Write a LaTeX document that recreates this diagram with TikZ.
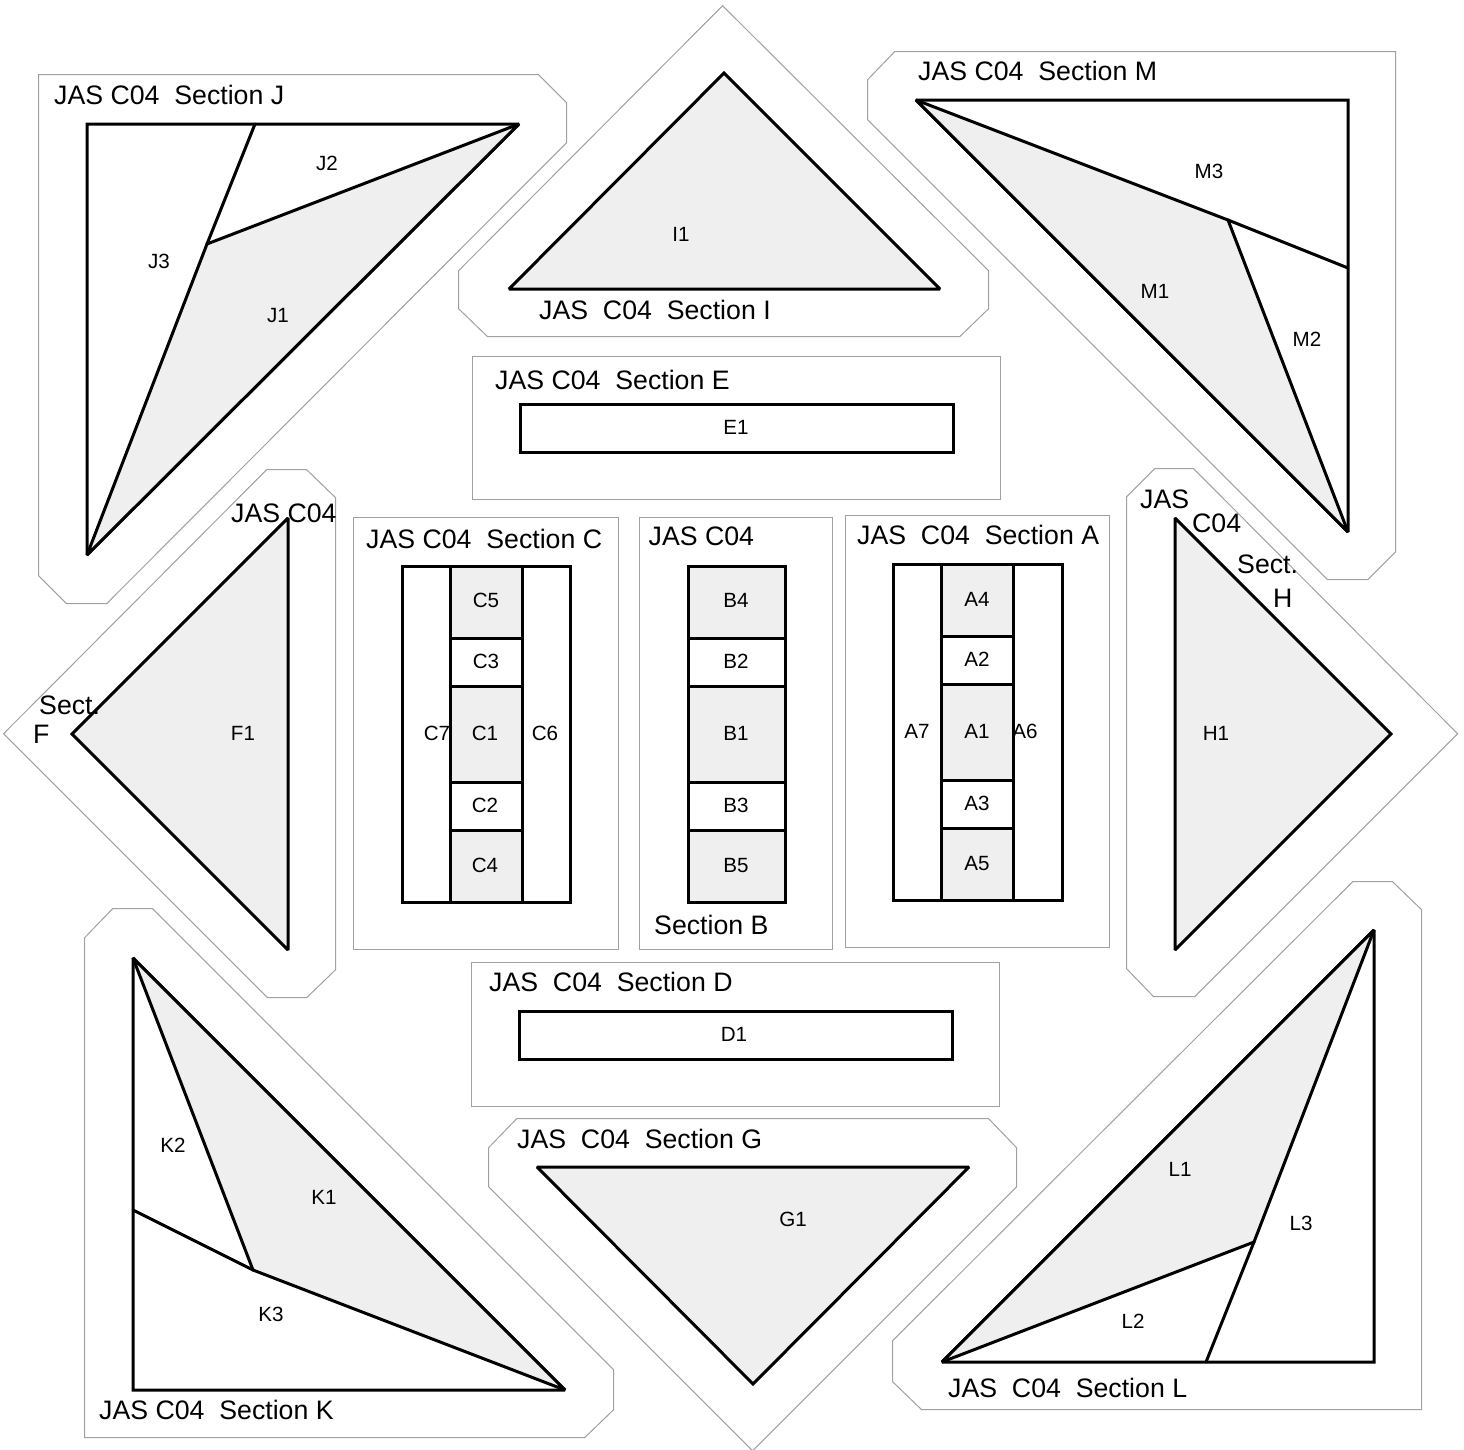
\documentclass[tikz,border=0pt]{standalone}
\usepackage{fontspec}
\setmainfont{Liberation Sans}
\definecolor{panelgray}{HTML}{EFEFEF}
\definecolor{edgegray}{HTML}{A0A0A0}
\tikzset{
  outline/.style={draw=edgegray,line width=1pt,line join=miter},
  part/.style={draw=black,line width=3pt,line join=miter,miter limit=2,line cap=round},
  shaded/.style={part,fill=panelgray},
  title/.style={anchor=base west,inner sep=0pt,font=\fontsize{26.7}{30}\selectfont},
  tag/.style={anchor=center,inner sep=0pt,yshift=-0.6pt,font=\fontsize{20.6}{23}\selectfont}
}
\begin{document}
\begin{tikzpicture}[x=1pt,y=-1pt]
\useasboundingbox (0,0) rectangle (1464,1449);
\clip (0,0) rectangle (1464,1449);
% section outlines
\begin{scope}[xshift=-0.4pt,yshift=0.3pt]
\draw[outline] (723,6) -- (989,271) -- (989,309) -- (960,337) -- (488,337) -- (459,309) -- (459,271) -- cycle;
\draw[outline] (517,1119) -- (989,1119) -- (1017,1148) -- (1017,1187) -- (753,1451) -- (489,1187) -- (489,1148) -- cycle;
\draw[outline] (39,75) -- (539,75) -- (567,103) -- (567,143) -- (107,604) -- (67,604) -- (39,576) -- cycle;
\draw[outline] (4,734) -- (267,470) -- (307,470) -- (336,498) -- (336,970) -- (307,998) -- (268,998) -- cycle;
\draw[outline] (85,938) -- (113,909) -- (153,909) -- (614,1370) -- (614,1410) -- (585,1438) -- (85,1438) -- cycle;
\draw[outline] (1353,882) -- (1393,882) -- (1422,910) -- (1422,1410) -- (922,1410) -- (893,1382) -- (893,1341) -- cycle;
\draw[outline] (1127,497) -- (1155,469) -- (1194,469) -- (1458,734) -- (1195,997) -- (1154,997) -- (1127,969) -- cycle;
\draw[outline] (895,52) -- (1396,52) -- (1396,552) -- (1368,580) -- (1328,580) -- (868,120) -- (868,80) -- cycle;
\draw[outline] (473,357) rectangle (1001,500);
\draw[outline] (472,963) rectangle (1000,1107);
\draw[outline] (354,518) rectangle (619,950);
\draw[outline] (640,518) rectangle (833,950);
\draw[outline] (846,516) rectangle (1110,948);
\end{scope}
% triangles
\draw[shaded] (724,73) -- (940,289) -- (509,289) -- cycle;
\draw[shaded] (537,1167) -- (969,1167) -- (753,1384) -- cycle;
\draw[shaded] (288,518) -- (288,950) -- (72,734) -- cycle;
\draw[shaded] (1175,518) -- (1391,734) -- (1175,950) -- cycle;
\draw[part] (87,124) -- (519,124) -- (87,555) -- cycle;
\draw[shaded] (519,124) -- (207,244) -- (87,555) -- cycle;
\draw[part] (255,124) -- (207,244);
\draw[part] (916,100) -- (1348,100) -- (1348,532) -- cycle;
\draw[shaded] (916,100) -- (1228,220) -- (1348,532) -- cycle;
\draw[part] (1228,220) -- (1348,268);
\draw[part] (133,958) -- (133,1390) -- (565,1390) -- cycle;
\draw[shaded] (133,958) -- (253,1270) -- (565,1390) -- cycle;
\draw[part] (133,1210) -- (253,1270);
\draw[part] (1374,930) -- (1374,1362) -- (942,1362) -- cycle;
\draw[shaded] (1374,930) -- (1254,1242) -- (942,1362) -- cycle;
\draw[part] (1254,1242) -- (1206,1362);
% rectangles
\draw[part] (520,404) rectangle (953,452);
\draw[part] (519,1011) rectangle (952,1059);
% section C
\draw[part] (402,566) rectangle (570,902);
\draw[shaded] (450,566) rectangle (522,638);
\draw[part] (450,638) rectangle (522,686);
\draw[shaded] (450,686) rectangle (522,782);
\draw[part] (450,782) rectangle (522,830);
\draw[shaded] (450,830) rectangle (522,902);
% section B
\draw[shaded] (688,566) rectangle (785,638);
\draw[part] (688,638) rectangle (785,686);
\draw[shaded] (688,686) rectangle (785,782);
\draw[part] (688,782) rectangle (785,830);
\draw[shaded] (688,830) rectangle (785,902);
% section A
\draw[part] (893,564) rectangle (1062,900);
\draw[shaded] (941,564) rectangle (1013,636);
\draw[part] (941,636) rectangle (1013,684);
\draw[shaded] (941,684) rectangle (1013,780);
\draw[part] (941,780) rectangle (1013,828);
\draw[shaded] (941,828) rectangle (1013,900);
% section titles
\node[title] (tJ) at (54,104) {JAS C04\ \ Section J};
\node[title] (tI) at (539,319) {JAS\ \ C04\ \ Section I};
\node[title] (tM) at (918,80) {JAS C04\ \ Section M};
\node[title] (tE) at (495,389) {JAS C04\ \ Section E};
\node[title] (tC) at (366,548) {JAS C04\ \ Section C};
\node[title] (tBa) at (648.5,545) {JAS C04};
\node[title] (tBb) at (654,934) {Section B};
\node[title] (tA) at (857,544) {JAS\ \ C04\ \ Section A};
\node[title] (tD) at (489,991) {JAS\ \ C04\ \ Section D};
\node[title] (tG) at (517,1148) {JAS\ \ C04\ \ Section G};
\node[title] (tK) at (99,1419) {JAS C04\ \ Section K};
\node[title] (tL) at (948,1397) {JAS\ \ C04\ \ Section L};
\node[title] (tFa) at (231,522) {JAS C04};
\node[title] (tFb) at (39,714) {Sect.};
\node[title] (tFc) at (33,743) {F};
\node[title] (tHa) at (1140,508) {JAS};
\node[title] (tHb) at (1192,532) {C04};
\node[title] (tHc) at (1237,573) {Sect.};
\node[title] (tHd) at (1273,607) {H};
% part labels
\node[tag] (J1) at (278,315) {J1};
\node[tag] (J2) at (327,163) {J2};
\node[tag] (J3) at (159,261) {J3};
\node[tag] (I1) at (681,234) {I1};
\node[tag] (M1) at (1155,291) {M1};
\node[tag] (M2) at (1307,339) {M2};
\node[tag] (M3) at (1209,171) {M3};
\node[tag] (E1) at (736,427) {E1};
\node[tag] (F1) at (243,733) {F1};
\node[tag] (C1) at (485,733) {C1};
\node[tag] (C2) at (485,805) {C2};
\node[tag] (C3) at (486,661) {C3};
\node[tag] (C4) at (485,865) {C4};
\node[tag] (C5) at (486,600) {C5};
\node[tag] (C6) at (545,733) {C6};
\node[tag] (C7) at (437,733) {C7};
\node[tag] (B1) at (736,733) {B1};
\node[tag] (B2) at (736,661) {B2};
\node[tag] (B3) at (736,805) {B3};
\node[tag] (B4) at (736,600) {B4};
\node[tag] (B5) at (736,865) {B5};
\node[tag] (A1) at (977,731) {A1};
\node[tag] (A2) at (977,659) {A2};
\node[tag] (A3) at (977,803) {A3};
\node[tag] (A4) at (977,599) {A4};
\node[tag] (A5) at (977,863) {A5};
\node[tag] (A6) at (1025,731) {A6};
\node[tag] (A7) at (917,731) {A7};
\node[tag] (H1) at (1216,733) {H1};
\node[tag] (D1) at (734,1034) {D1};
\node[tag] (G1) at (793,1219) {G1};
\node[tag] (L1) at (1180,1169) {L1};
\node[tag] (L2) at (1133,1321) {L2};
\node[tag] (L3) at (1301,1223) {L3};
\node[tag] (K1) at (324,1197) {K1};
\node[tag] (K2) at (173,1145) {K2};
\node[tag] (K3) at (271,1314) {K3};
\end{tikzpicture}
\end{document}
